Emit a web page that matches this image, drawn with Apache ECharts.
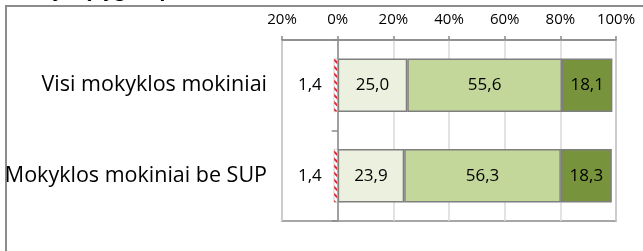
<!DOCTYPE html>
<html>
<head>
<meta charset="utf-8">
<script src="https://cdn.jsdelivr.net/npm/echarts@6/dist/echarts.min.js"></script>
<style>
  html, body { margin: 0; padding: 0; background: #fff; }
  #chart { width: 643px; height: 251px; }
</style>
</head>
<body>
<div id="chart"></div>
<script>
  // groups, top to bottom
  var categories = ["Visi mokyklos mokiniai", "Mokyklos mokiniai be SUP"];
  // share below the lowest level (drawn to the left of 0)
  var belowLevel = [1.4, 1.4];
  var level1 = [25.0, 23.9];
  var level2 = [55.6, 56.3];
  var level3 = [18.1, 18.3];
  var tickValues = [-20, 0, 20, 40, 60, 80, 100];

  var fontFam = "'Open Sans', sans-serif";
  var edge = "#7f7f7f";

  function fmt(v) {
    return Math.abs(v).toFixed(1).replace(".", ",");
  }

  var chart = echarts.init(document.getElementById("chart"), null, { renderer: "canvas" });

  function segment(name, values, color, negative) {
    return {
      name: name,
      type: "bar",
      stack: "total",
      yAxisIndex: 0,
      barWidth: "59%",
      data: values.map(function (v) { return negative ? -v : v; }),
      itemStyle: {
        color: color,
        borderColor: edge,
        borderWidth: 1.5
      },
      label: {
        show: true,
        position: negative ? "left" : "inside",
        distance: 12,
        color: "#000",
        fontFamily: fontFam,
        fontSize: 17,
        formatter: function (p) { return fmt(p.value); }
      },
      emphasis: { disabled: true },
      silent: true,
      animation: false
    };
  }

  var low = segment("Žemiau patenkinamo", belowLevel, "#ffffff", true);
  low.itemStyle.borderColor = "#c8c8c8";
  low.itemStyle.borderWidth = 0.5;
  low.itemStyle.decal = {
    symbol: "rect",
    symbolSize: 1,
    dashArrayX: [1, 0],
    dashArrayY: [2, 3],
    rotation: Math.PI / 4,
    color: "#e8202a"
  };

  chart.setOption({
    animation: false,
    grid: { left: 282, right: 27, top: 40, bottom: 30, show: true, borderColor: "#8a8a8a", borderWidth: 1.5, containLabel: false },
    xAxis: {
      type: "value",
      position: "top",
      min: -20,
      max: 100,
      interval: 20,
      axisLine: { show: true, lineStyle: { color: "#8a8a8a", width: 1.5 } },
      axisTick: { show: true, length: 4, lineStyle: { color: "#8a8a8a", width: 1.5 } },
      splitLine: { show: true, lineStyle: { color: "#d9d9d9", width: 1.5 } },
      axisLabel: {
        margin: 13,
        color: "#000",
        fontFamily: fontFam,
        fontSize: 15,
        formatter: function (v) { return tickValues.indexOf(v) >= 0 ? Math.abs(v) + "%" : ""; }
      }
    },
    yAxis: [
      {
        type: "category",
        inverse: true,
        data: categories,
        axisLine: { show: true, onZero: true, lineStyle: { color: "#8a8a8a", width: 1.5 } },
        axisTick: { show: true, length: 6, lineStyle: { color: "#8a8a8a", width: 1.5 } },
        axisLabel: { show: false },
        splitLine: { show: false }
      },
      {
        type: "category",
        position: "left",
        inverse: true,
        data: categories,
        axisLine: { show: false, onZero: false },
        axisTick: { show: false },
        axisLabel: { margin: 15, color: "#000", fontFamily: fontFam, fontSize: 21.5 }
      }
    ],
    series: [
      low,
      segment("Patenkinamas", level1, "#ebf1de", false),
      segment("Pagrindinis", level2, "#c4d79b", false),
      segment("Aukštesnysis", level3, "#77933c", false)
    ],
    graphic: [
      {
        type: "rect",
        shape: { x: 6, y: 6, width: 700, height: 300 },
        style: { fill: "none", stroke: "#8c8c8c", lineWidth: 2 },
        silent: true
      },
      {
        type: "text",
        left: 14,
        top: -20,
        style: { text: "Mokyklų lygiai, proc.", fill: "#000", font: "italic bold 20px " + fontFam },
        silent: true
      }
    ]
  });
</script>
</body>
</html>
